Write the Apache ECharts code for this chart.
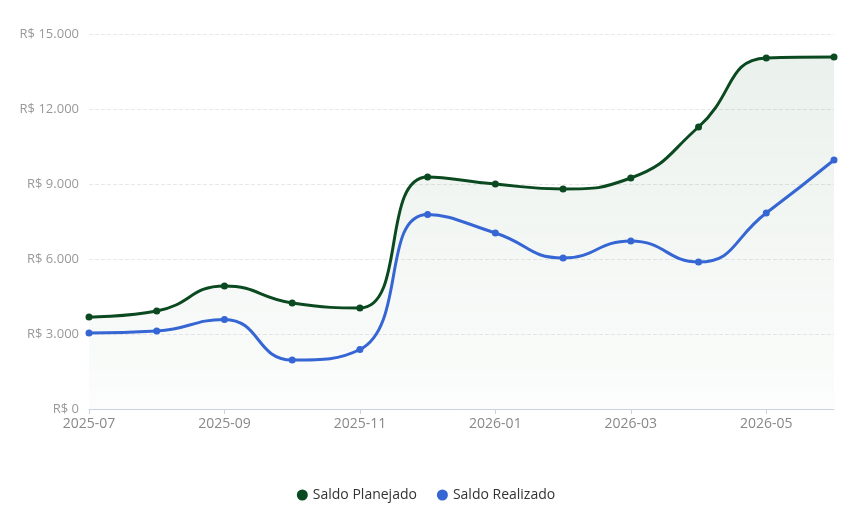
<!DOCTYPE html>
<html>
<head>
<meta charset="UTF-8">
<title>Saldo</title>
<script src="https://cdn.jsdelivr.net/npm/echarts@6/dist/echarts.min.js"></script>
<style>
  html, body { margin: 0; padding: 0; background: #fff; }
</style>
</head>
<body>
<div id="main" style="width: 852px;height:522px;"></div>
<script type="text/javascript">
    var months = ['2025-07', '2025-08', '2025-09', '2025-10', '2025-11', '2025-12',
                  '2026-01', '2026-02', '2026-03', '2026-04', '2026-05', '2026-06'];
    var saldoPlanejado = [3680, 3920, 4920, 4240, 4040, 9280, 9000, 8800, 9240, 11280, 14040, 14080];
    var saldoRealizado = [3040, 3120, 3580, 1960, 2380, 7780, 7040, 6040, 6720, 5880, 7840, 9960];

    var verde = '#0b4a20';
    var azul = '#3566d4';

    function fmtBRL(v) {
        return 'R$ ' + String(v).replace(/\B(?=(\d{3})+(?!\d))/g, '.');
    }

    var myChart = echarts.init(document.getElementById('main'));

    var option = {
        textStyle: { fontFamily: 'Open Sans, Noto Sans, sans-serif' },
        grid: { left: 89, right: 18, top: 34, bottom: 113 },
        legend: {
            bottom: 15,
            icon: 'circle',
            itemWidth: 11,
            itemHeight: 11,
            itemGap: 20,
            textStyle: { color: '#333', fontSize: 14 },
            data: ['Saldo Planejado', 'Saldo Realizado']
        },
        xAxis: {
            type: 'category',
            boundaryGap: false,
            data: months,
            axisLine: { lineStyle: { color: '#ccd3e0' } },
            axisTick: { interval: 1, lineStyle: { color: '#ccd3e0' } },
            axisLabel: { interval: 1, color: '#888', fontSize: 14, margin: 8 }
        },
        yAxis: {
            type: 'value',
            min: 0,
            max: 15000,
            interval: 3000,
            axisLabel: {
                color: '#999',
                fontSize: 13,
                margin: 10,
                formatter: fmtBRL
            },
            splitLine: { lineStyle: { type: 'dashed', color: '#e8e8e8' } }
        },
        series: [
            {
                name: 'Saldo Planejado',
                type: 'line',
                smooth: true,
                data: saldoPlanejado,
                symbol: 'circle',
                symbolSize: 7,
                itemStyle: { color: verde },
                lineStyle: { width: 3, color: verde },
                areaStyle: {
                    color: new echarts.graphic.LinearGradient(0, 0, 0, 1, [
                        { offset: 0, color: 'rgba(11,90,30,0.12)' },
                        { offset: 1, color: 'rgba(11,90,30,0.02)' }
                    ])
                },
                z: 2
            },
            {
                name: 'Saldo Realizado',
                type: 'line',
                smooth: true,
                data: saldoRealizado,
                symbol: 'circle',
                symbolSize: 7,
                itemStyle: { color: azul },
                lineStyle: { width: 3, color: azul },
                z: 3
            }
        ]
    };

    myChart.setOption(option);
</script>
</body>
</html>
